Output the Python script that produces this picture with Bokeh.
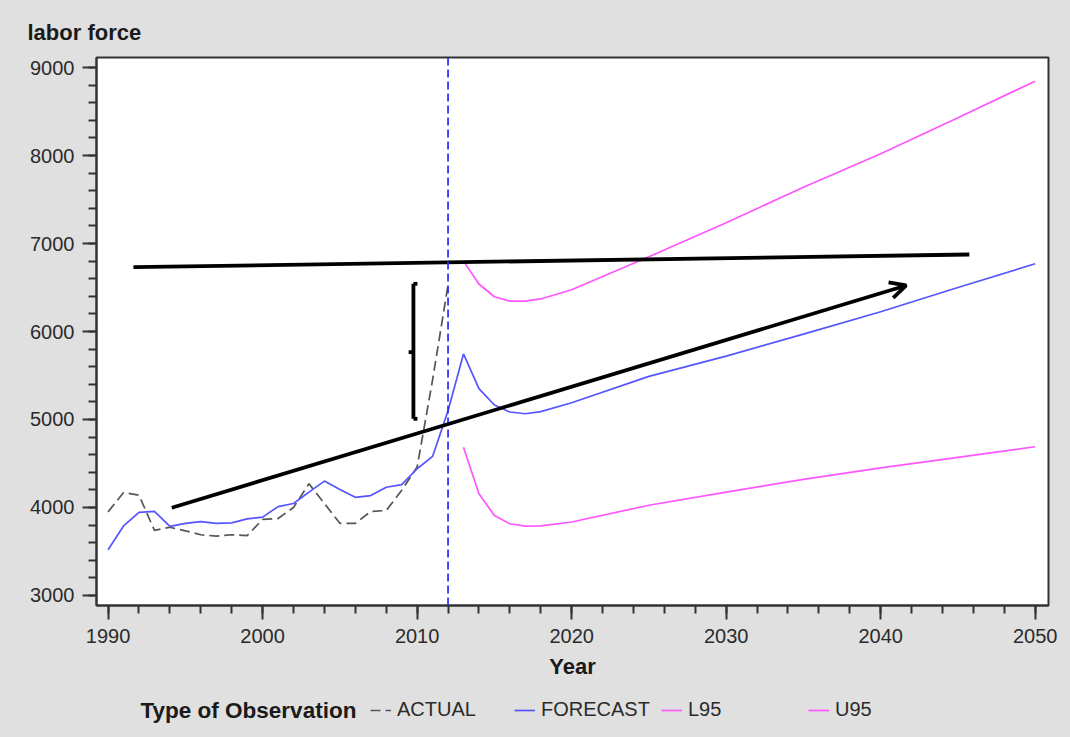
from bokeh.plotting import figure
from bokeh.layouts import column
from bokeh.models import (Range1d, SingleIntervalTicker, Label, Legend, LegendItem,
                          Arrow, OpenHead, Span)
from bokeh.embed import file_html
from bokeh.resources import INLINE

FONT = "Liberation Sans"
BG = "#e0e0e0"

# ---------------- data ----------------
actual_years = list(range(1990, 2013))
actual_values = [3950, 4170, 4140, 3740, 3775, 3735, 3690, 3675, 3690, 3680,
                 3865, 3875, 4000, 4270, 4045, 3820, 3820, 3955, 3965, 4195,
                 4460, 5450, 6530]

forecast_years = list(range(1990, 2019)) + [2020, 2025, 2030, 2035, 2040, 2045, 2050]
forecast_values = [3520, 3790, 3945, 3955, 3785, 3820, 3840, 3820, 3825, 3870,
                   3890, 4010, 4045, 4175, 4300, 4205, 4115, 4135, 4230, 4260,
                   4440, 4580, 5100, 5745, 5350, 5165, 5085, 5065, 5090,
                   5190, 5490, 5720, 5970, 6225, 6500, 6770]

band_years = [2013, 2014, 2015, 2016, 2017, 2018, 2020, 2025, 2030, 2035, 2040, 2045, 2050]
l95_values = [4685, 4155, 3910, 3815, 3788, 3790, 3835, 4025, 4175, 4320, 4450, 4570, 4690]
u95_values = [6800, 6540, 6395, 6345, 6345, 6370, 6475, 6850, 7235, 7640, 8020, 8430, 8845]

forecast_start = 2012

# hand-drawn annotations (data coordinates)
hline_x = [1991.64, 2045.74]
hline_y = [6731, 6875]
arrow_start = (1994.12, 3997)
arrow_end = (2041.65, 6523)
bracket_xs = [[2009.76, 2009.76], [2009.76, 2010.02], [2009.76, 2010.02], [2009.76, 2009.45]]
bracket_ys = [[5008, 6542], [6542, 6542], [5008, 5008], [5765, 5765]]

x_ticks_interval = 10
y_ticks_interval = 1000

legend_title = "Type of Observation"
legend_labels = ["ACTUAL", "FORECAST", "L95", "U95"]

# ---------------- main figure ----------------
p = figure(width=1070, height=690, output_backend="svg", toolbar_location=None,
           x_range=Range1d(1989.25, 2050.86), y_range=Range1d(2886, 9114),
           min_border_left=96, min_border_right=22, min_border_top=57,
           min_border_bottom=85)

p.title.text = "labor force"
p.title.align = "left"
p.title.offset = -69
p.title.standoff = 26
p.title.text_font = FONT
p.title.text_font_size = "22px"
p.title.text_font_style = "bold"
p.title.text_color = "#1a1a1a"

p.border_fill_color = BG
p.background_fill_color = "white"
p.outline_line_color = "#333333"
p.outline_line_width = 2
p.outline_line_alpha = 1
p.xgrid.visible = False
p.ygrid.visible = False

p.xaxis.ticker = SingleIntervalTicker(interval=x_ticks_interval, num_minor_ticks=5)
p.yaxis.ticker = SingleIntervalTicker(interval=y_ticks_interval, num_minor_ticks=5)
for ax in (p.xaxis, p.yaxis):
    ax.axis_line_color = "#333333"
    ax.axis_line_width = 2
    ax.major_tick_line_color = "#333333"
    ax.major_tick_line_width = 2
    ax.minor_tick_line_color = "#333333"
    ax.minor_tick_line_width = 2
    ax.major_tick_in = 0
    ax.major_tick_out = 14
    ax.minor_tick_in = 0
    ax.minor_tick_out = 8
    ax.major_label_text_font = FONT
    ax.major_label_text_font_size = "20px"
    ax.major_label_text_color = "#2b2b2b"
p.xaxis.major_label_standoff = 9
p.yaxis.major_label_standoff = 8
p.xaxis.axis_label = "Year"
p.xaxis.axis_label_text_font = FONT
p.xaxis.axis_label_text_font_size = "22px"
p.xaxis.axis_label_text_font_style = "bold"
p.xaxis.axis_label_text_color = "#1a1a1a"
p.xaxis.axis_label_standoff = 8

styles = [dict(line_color="#555555", line_width=1.7, line_dash="10 5"),
          dict(line_color="#5555ff", line_width=1.7),
          dict(line_color="#ff55ff", line_width=1.7),
          dict(line_color="#ff55ff", line_width=1.7)]

p.line(actual_years, actual_values, **styles[0])
p.line(forecast_years, forecast_values, **styles[1])
p.line(band_years, l95_values, **styles[2])
p.line(band_years, u95_values, **styles[3])

p.add_layout(Span(location=forecast_start, dimension="height", line_color="#2a2aff",
                  line_width=1.7, line_dash="8 4"))

# annotations
p.line(hline_x, hline_y, line_color="black", line_width=3.8)
p.add_layout(Arrow(end=OpenHead(size=16, line_width=3.8, line_color="black"),
                   x_start=arrow_start[0], y_start=arrow_start[1],
                   x_end=arrow_end[0], y_end=arrow_end[1],
                   line_width=3.8, line_color="black"))
p.multi_line(bracket_xs, bracket_ys, line_color="black", line_width=3.8)

# ---------------- legend strip ----------------
# (its frame is aligned with the main frame: left edge at x = 96)
q = figure(width=1070, height=47, output_backend="svg", toolbar_location=None,
           x_range=Range1d(0, 952), y_range=Range1d(0, 47),
           x_axis_type=None, y_axis_type=None,
           min_border_left=96, min_border_right=22, min_border_top=0,
           min_border_bottom=0)
q.outline_line_color = None
q.background_fill_alpha = 0
q.border_fill_color = BG

q.add_layout(Label(text=legend_title, x=44, y=27, x_units="screen", y_units="screen",
                   text_font=FONT, text_font_size="22.5px", text_font_style="bold",
                   text_color="#1a1a1a", text_baseline="middle", text_align="left"))

legend_x = [274, 418, 565, 712]
for st, lab, lx in zip(styles, legend_labels, legend_x):
    r = q.line([-50, -40], [-50, -50], **st)
    lg = Legend(items=[LegendItem(label=lab, renderers=[r])], location=(lx, 16),
                orientation="horizontal", padding=0, margin=0, spacing=0,
                glyph_width=21, glyph_height=22, label_height=22, label_standoff=6,
                border_line_alpha=0, background_fill_alpha=0,
                label_text_font=FONT, label_text_font_size="20px",
                label_text_color="#2b2b2b", label_text_baseline="middle")
    q.add_layout(lg)

layout = column(p, q, spacing=0, styles={"background-color": BG})
open("out.html", "w").write(file_html(layout, INLINE))
